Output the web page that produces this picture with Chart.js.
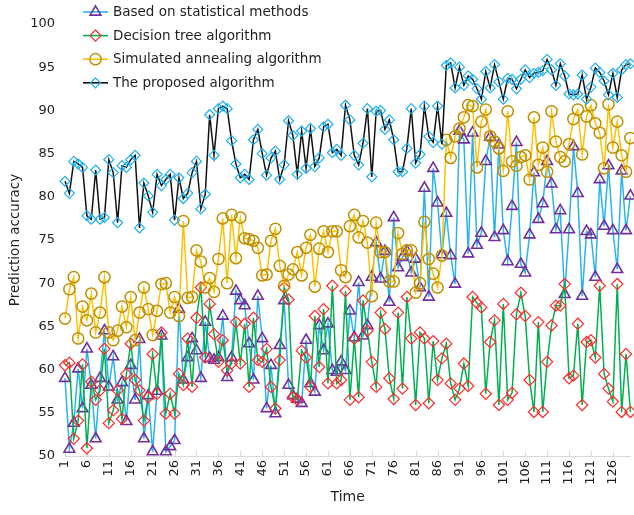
<!DOCTYPE html>
<html>
<head>
<meta charset="utf-8">
<script src="https://cdn.jsdelivr.net/npm/chart.js@4.4.1/dist/chart.umd.min.js"></script>
<style>
  html, body { margin: 0; padding: 0; background: #ffffff; overflow: hidden; }
  #wrap { position: absolute; left: 0; top: 0; width: 650px; height: 515px; }
</style>
</head>
<body>
<div id="wrap"><canvas id="chart" width="650" height="515"></canvas></div>
<script>
// Time steps 1..130
const timeLabels = Array.from({ length: 130 }, (_, i) => String(i + 1));

const seriesNames = [
  'Based on statistical methods',
  'Decision tree algorithm',
  'Simulated annealing algorithm',
  'The proposed algorithm'
];

// Prediction accuracy per time step (%)
const statisticalValues = [
  59.0, 50.8, 53.8, 60.1, 55.5, 62.4, 58.2, 52.0, 59.0, 64.5,
  58.0, 61.5, 56.5, 58.5, 54.0, 60.5, 56.5, 63.5, 52.0, 57.0,
  50.5, 57.5, 63.9, 50.5, 51.1, 51.8, 67.0, 58.8, 61.4, 63.6,
  62.2, 59.0, 65.5, 61.3, 61.1, 61.4, 66.2, 59.1, 61.4, 69.1,
  68.0, 67.4, 63.0, 58.8, 68.5, 63.6, 55.5, 60.5, 54.9, 62.8,
  68.0, 58.2, 57.0, 56.6, 56.1, 63.4, 58.4, 57.4, 65.1, 62.2,
  65.3, 59.9, 59.7, 60.9, 59.9, 66.8, 63.7, 70.1, 63.9, 65.1,
  70.7, 74.7, 70.5, 73.7, 67.8, 77.6, 71.8, 73.0, 73.7, 71.2,
  72.8, 69.5, 81.0, 68.4, 83.3, 79.3, 73.3, 78.1, 73.2, 69.9,
  87.6, 86.6, 73.4, 87.4, 74.4, 75.8, 84.1, 86.9, 75.3, 86.0,
  76.1, 72.5, 78.9, 86.3, 72.2, 71.2, 75.6, 82.8, 77.4, 79.2,
  84.1, 81.5, 76.2, 78.4, 68.7, 76.2, 85.8, 80.4, 68.5, 76.0,
  75.6, 70.7, 82.0, 76.6, 83.6, 76.1, 71.6, 83.0, 76.1, 80.1
];

const decisionTreeValues = [
  60.5, 60.8, 52.0, 54.1, 60.6, 50.9, 58.6, 56.5, 57.6, 62.4,
  53.8, 55.3, 57.6, 54.3, 59.5, 63.0, 58.8, 57.6, 54.1, 56.8,
  61.8, 57.2, 64.3, 54.9, 57.2, 54.9, 59.5, 58.2, 63.6, 58.0,
  66.0, 69.5, 61.4, 67.6, 64.1, 60.9, 63.4, 59.9, 60.7, 65.5,
  60.7, 65.3, 58.0, 66.0, 61.1, 60.9, 62.4, 58.0, 55.5, 61.1,
  69.5, 68.1, 56.8, 56.5, 62.2, 61.4, 58.0, 66.2, 60.3, 67.0,
  58.4, 69.7, 58.4, 58.8, 69.1, 56.5, 63.6, 56.8, 68.0, 64.5,
  60.9, 58.0, 66.6, 64.7, 59.0, 56.6, 66.6, 57.8, 68.4, 63.6,
  55.9, 64.3, 63.6, 56.1, 63.3, 58.8, 61.3, 63.0, 58.4, 56.5,
  57.8, 60.7, 58.1, 68.4, 67.7, 67.2, 57.2, 63.2, 65.7, 55.9,
  67.6, 56.5, 57.3, 66.4, 68.9, 66.2, 58.8, 55.1, 65.5, 55.1,
  60.9, 65.1, 67.4, 67.4, 69.9, 59.0, 59.3, 65.3, 55.9, 63.2,
  63.4, 61.4, 69.7, 59.5, 57.8, 56.3, 69.9, 55.1, 61.8, 55.1
];

const annealingValues = [
  65.9, 69.3, 70.7, 63.6, 67.3, 65.7, 68.8, 64.3, 66.6, 70.7,
  64.3, 63.4, 64.5, 67.3, 64.9, 68.4, 63.4, 66.6, 69.5, 67.0,
  64.0, 66.8, 69.9, 70.0, 66.6, 68.4, 66.2, 77.2, 68.3, 68.4,
  73.8, 72.5, 69.5, 70.6, 69.0, 72.8, 77.5, 70.0, 77.9, 72.9,
  77.6, 75.2, 75.1, 74.9, 74.1, 70.9, 71.0, 74.9, 76.3, 72.0,
  69.7, 71.0, 71.6, 73.6, 70.9, 74.1, 75.6, 69.6, 74.0, 76.0,
  73.6, 76.0, 76.0, 71.5, 70.7, 76.6, 77.9, 75.3, 77.2, 74.7,
  68.5, 77.0, 73.6, 73.6, 70.2, 70.2, 75.8, 73.4, 73.8, 73.8,
  68.9, 70.0, 77.1, 72.8, 71.1, 69.5, 73.2, 86.6, 84.5, 87.0,
  87.9, 89.2, 90.6, 90.5, 83.4, 88.7, 90.1, 87.0, 86.4, 85.6,
  83.0, 89.9, 84.1, 83.6, 84.6, 84.8, 82.0, 89.2, 83.7, 85.7,
  82.9, 89.9, 86.4, 84.6, 84.1, 86.1, 89.0, 90.1, 84.9, 89.3,
  90.6, 88.5, 87.4, 83.3, 90.7, 85.7, 88.7, 84.8, 82.9, 86.8
];

const proposedValues = [
  81.8, 80.4, 84.1, 83.8, 83.4, 77.8, 77.4, 83.1, 77.4, 77.6,
  84.3, 82.8, 77.0, 83.6, 83.4, 84.3, 84.8, 76.4, 81.6, 80.1,
  78.2, 82.6, 81.3, 82.0, 82.6, 77.3, 82.2, 79.8, 80.4, 82.8,
  84.1, 78.6, 80.3, 89.5, 84.8, 90.2, 90.5, 90.2, 86.5, 83.8,
  82.2, 82.6, 82.0, 86.6, 87.8, 85.0, 82.5, 84.5, 85.3, 82.0,
  83.7, 88.8, 87.1, 82.6, 87.6, 83.3, 87.9, 83.5, 84.5, 88.1,
  88.4, 85.1, 85.5, 84.8, 90.6, 88.9, 84.8, 83.7, 86.2, 90.2,
  82.3, 89.9, 90.0, 87.8, 88.9, 86.6, 82.9, 82.9, 85.6, 90.2,
  83.9, 84.9, 90.5, 87.0, 86.3, 90.5, 86.1, 95.2, 95.5, 92.6,
  95.0, 92.9, 94.0, 93.6, 92.5, 91.3, 94.5, 92.6, 95.3, 93.3,
  91.3, 93.7, 93.6, 92.5, 93.6, 94.7, 93.8, 94.3, 94.4, 94.6,
  95.9, 94.7, 92.9, 95.4, 94.0, 91.9, 91.8, 91.9, 94.1, 91.3,
  92.7, 94.9, 94.4, 93.4, 91.8, 94.3, 91.5, 94.7, 95.3, 95.4
];

const yTicks = [50, 55, 60, 65, 70, 75, 80, 85, 90, 95, 100];

const FONT = 'DejaVu Sans';
const TEXT = '#1f1f1f';
const AXIS_GREY = '#d9d9d9';

// line colour, marker colour, marker shape, marker radius
const styles = [
  { line: '#2bb3ea', mark: '#7030a0', shape: 'triangle', r: 6.2, bw: 1.6 },
  { line: '#00b050', mark: '#ff2a2a', shape: 'rectRot', r: 5.6, bw: 1.2 },
  { line: '#ffc000', mark: '#bf9000', shape: 'circle', r: 5.6, bw: 1.5 },
  { line: '#111111', mark: '#1cb0f0', shape: 'rectRot', r: 5.0, bw: 1.2 }
];
const seriesValues = [statisticalValues, decisionTreeValues, annealingValues, proposedValues];

function drawMarker(ctx, shape, x, y, r) {
  ctx.beginPath();
  if (shape === 'triangle') {
    for (let k = 0; k < 3; k++) {
      const a = k * 2 * Math.PI / 3;
      const px = x + Math.sin(a) * r, py = y - Math.cos(a) * r;
      if (k === 0) ctx.moveTo(px, py); else ctx.lineTo(px, py);
    }
    ctx.closePath();
  } else if (shape === 'rectRot') {
    ctx.moveTo(x, y - r); ctx.lineTo(x + r, y); ctx.lineTo(x, y + r); ctx.lineTo(x - r, y);
    ctx.closePath();
  } else {
    ctx.arc(x, y, r, 0, Math.PI * 2);
  }
  ctx.stroke();
}

// Legend: stacked rows in the top-left of the plot
const legendPlugin = {
  id: 'seriesLegend',
  afterDraw(chart) {
    const ctx = chart.ctx;
    ctx.save();
    ctx.font = '13.5px "' + FONT + '"';
    ctx.textBaseline = 'middle';
    ctx.textAlign = 'left';
    seriesNames.forEach((name, i) => {
      const st = styles[i];
      const y = 12 + i * 23.6;
      ctx.strokeStyle = st.line;
      ctx.lineWidth = 1.6;
      ctx.beginPath(); ctx.moveTo(83, y); ctx.lineTo(108, y); ctx.stroke();
      ctx.strokeStyle = st.mark;
      ctx.lineWidth = st.bw;
      drawMarker(ctx, st.shape, 95.5, y, st.r);
      ctx.fillStyle = TEXT;
      ctx.fillText(name, 113, y + 0.5);
    });
    ctx.restore();
  }
};

// Short inside tick marks on the time axis, one every five steps
const insideTicks = {
  id: 'insideTicks',
  beforeDatasetsDraw(chart) {
    const xs = chart.scales.x, area = chart.chartArea, ctx = chart.ctx;
    ctx.save();
    ctx.strokeStyle = AXIS_GREY;
    ctx.lineWidth = 1;
    for (let i = 0; i < timeLabels.length; i += 5) {
      const px = Math.round(xs.getPixelForValue(i)) + 0.5;
      ctx.beginPath(); ctx.moveTo(px, area.bottom); ctx.lineTo(px, area.bottom - 5); ctx.stroke();
    }
    ctx.restore();
  }
};

Chart.defaults.font.family = FONT;
Chart.defaults.color = TEXT;

new Chart(document.getElementById('chart'), {
  type: 'line',
  data: {
    labels: timeLabels,
    datasets: seriesNames.map((name, i) => ({
      label: name,
      data: seriesValues[i],
      order: 3 - i,
      borderColor: styles[i].line,
      borderWidth: 1.5,
      tension: 0,
      fill: false,
      pointStyle: styles[i].shape,
      pointRadius: styles[i].r,
      pointHoverRadius: styles[i].r,
      pointBorderColor: styles[i].mark,
      pointBackgroundColor: 'rgba(0,0,0,0)',
      pointBorderWidth: styles[i].bw
    }))
  },
  options: {
    responsive: false,
    animation: false,
    devicePixelRatio: 1,
    layout: { padding: { top: 24, right: 14, bottom: 0, left: 0 } },
    plugins: { legend: { display: false }, tooltip: { enabled: false } },
    scales: {
      x: {
        type: 'category',
        offset: false,
        grid: { display: false, drawTicks: false },
        border: { display: true, color: AXIS_GREY, width: 1 },
        ticks: {
          autoSkip: false, maxRotation: 90, minRotation: 90, padding: 4,
          font: { size: 13 }, color: TEXT,
          callback: (v, i) => (i % 5 === 0 ? timeLabels[i] : '')
        },
        title: { display: true, text: 'Time', font: { size: 14 }, color: TEXT, padding: { top: 0, bottom: 9 } },
        afterFit: s => { s.height = 59; }
      },
      y: {
        min: 50, max: 100,
        afterBuildTicks: s => { s.ticks = yTicks.map(v => ({ value: v })); },
        grid: { display: false, drawTicks: false },
        border: { display: false },
        ticks: { padding: 10, font: { size: 13 }, color: TEXT },
        title: { display: true, text: 'Prediction accuracy', font: { size: 13.5 }, color: TEXT, padding: { top: 7, bottom: 0 } },
        afterFit: s => { s.width = 65; }
      }
    }
  },
  plugins: [insideTicks, legendPlugin]
});
</script>
</body>
</html>
